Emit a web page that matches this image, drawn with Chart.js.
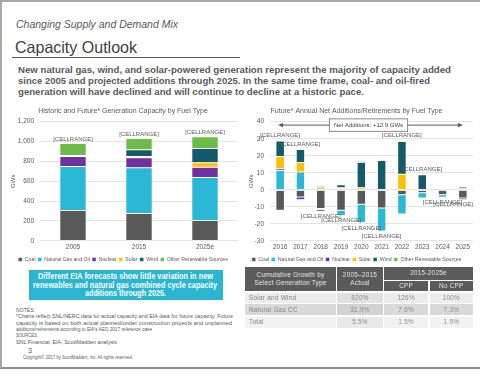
<!DOCTYPE html>
<html><head><meta charset="utf-8">
<script src="https://cdn.jsdelivr.net/npm/chart.js@4"></script>
<style>
html,body{margin:0;padding:0;background:#fff;width:480px;height:382px;overflow:hidden;font-family:'Liberation Sans',Arial,sans-serif;}
.t{position:absolute;white-space:nowrap;line-height:1;transform-origin:0 0;color:#595959;}
#frame{position:absolute;left:0;top:0;width:478px;height:365px;border-top:2px solid #a8a8a8;border-left:2px solid #a8a8a8;border-bottom:2px solid #8c8c8c;}
.cell{position:absolute;display:flex;align-items:center;font-size:6.4px;line-height:1.3;letter-spacing:0.25px;box-sizing:border-box;}
canvas{position:absolute;}
</style></head><body>
<div id="frame"></div>
<div class="t" style="left:16px;top:19px;font-size:11px;font-style:italic;" data-w="162">Changing Supply and Demand Mix</div>
<div class="t" style="left:15px;top:39.3px;font-size:16.5px;color:#404040;" data-w="122">Capacity Outlook</div>
<div style="position:absolute;left:12px;top:57px;width:228px;height:1.2px;background:#595959;"></div>
<div class="t" style="left:18px;top:64.5px;font-size:9.5px;font-weight:bold;" data-w="433">New natural gas, wind, and solar-powered generation represent the majority of capacity added</div>
<div class="t" style="left:18px;top:76px;font-size:9.5px;font-weight:bold;" data-w="412">since 2005 and projected additions through 2025. In the same time frame, coal- and oil-fired</div>
<div class="t" style="left:18px;top:87px;font-size:9.5px;font-weight:bold;" data-w="346">generation will have declined and will continue to decline at a historic pace.</div>

<canvas id="c1" width="232" height="170" style="left:8px;top:102px;width:232px;height:170px;"></canvas>
<canvas id="c2" width="235" height="170" style="left:240px;top:102px;width:235px;height:170px;"></canvas>

<div style="position:absolute;left:29px;top:270px;width:194px;height:29.5px;background:#2ab5d1;"></div>
<div class="t" style="left:38px;top:271.6px;font-size:8.3px;font-weight:bold;color:#fff;" data-w="175">Different EIA forecasts show little variation in new</div>
<div class="t" style="left:33px;top:280.9px;font-size:8.3px;font-weight:bold;color:#fff;" data-w="184">renewables and natural gas combined cycle capacity</div>
<div class="t" style="left:85px;top:289.2px;font-size:8.3px;font-weight:bold;color:#fff;" data-w="81">additions through 2025.</div>

<div class="t" style="left:16px;top:308px;font-size:5.6px;" data-w="19">NOTES:</div>
<div class="t" style="left:16px;top:314.3px;font-size:5.6px;" data-w="217">*Charts reflect SNL/NERC data for actual capacity and EIA data for future capacity. Future</div>
<div class="t" style="left:16px;top:320.6px;font-size:5.6px;" data-w="216">capacity is based on both actual planned/under construction projects and unplanned</div>
<div class="t" style="left:16px;top:326.9px;font-size:5.6px;" data-w="136">additions/retirements according to EIA's AEO 2017 reference case</div>
<div class="t" style="left:16px;top:333.3px;font-size:5.6px;" data-w="22">SOURCES:</div>
<div class="t" style="left:16px;top:339.6px;font-size:5.6px;" data-w="101">SNL Financial; EIA; ScottMadden analysis</div>
<div class="t" style="left:28px;top:347.3px;font-size:7px;">3</div>
<div class="t" style="left:22.7px;top:356.1px;font-size:4.5px;" data-w="110">Copyright© 2017 by ScottMadden, Inc. All rights reserved.</div>

<div id="tbl"></div>

<script>
// ---- Data: left chart (GWs) ----
const leftYears = ['2005', '2015', '2025e'];
const leftCoal = [305, 275, 204];
const leftGas = [443, 460, 435];
const leftNuclear = [102, 102, 102];
const leftSolar = [1, 13, 45];
const leftWind = [9, 68, 143];
const leftOther = [120, 112, 119];
const leftTicks = [0, 200, 400, 600, 800, 1000, 1200];

// ---- Data: right chart (GWs net additions/retirements) ----
const rightYears = ['2016','2017','2018','2019','2020','2021','2022','2023','2024','2025'];
const rightCoal = [-12, -4.3, -11, -12, -8.5, -10.7, -3, -1.8, -3, -4.8];
const rightGas = [11.3, 10.5, -0.8, -3.2, -10.8, -13.6, -11.3, -3, -1.4, 0.6];
const rightNuclear = [1, -1.5, -1, 0.4, -0.6, 0, 0, 0, 0, -1];
const rightSolar = [7.3, 5.5, 1.2, 0.8, 1.2, 0, 9.1, 0, 0, 0];
const rightWind = [9.1, 7.6, 0.8, 1.8, 14.9, 17.2, 19.2, 8.8, 0.5, 1.0];
const rightOther = [0.6, 0.4, 0.4, 0.2, 0.8, 0.3, 0.7, 0.5, 0, 0.4];
const rightTicks = [-30, -20, -10, 0, 10, 20, 30, 40];
const netAdditionsText = 'Net Additions: +12.9 GWs';
const dataLabelText = '[CELLRANGE]';

// ---- Table ----
const tableRowNames = ['Solar and Wind', 'Natural Gas CC', 'Total'];
const tableActual = ['820%', '31.9%', '5.5%'];
const tableCPP = ['126%', '7.6%', '1.5%'];
const tableNoCPP = ['100%', '7.3%', '1.9%'];

const seriesNames = ['Coal', 'Natural Gas and Oil', 'Nuclear', 'Solar', 'Wind', 'Other Renewable Sources'];
const seriesColors = ['#595959', '#29b9d6', '#7030a0', '#ffc000', '#135b6b', '#6cbd45'];

Chart.defaults.font.family = "'Liberation Sans', Arial, sans-serif";
Chart.defaults.color = '#595959';

const cellLabels = {
  id: 'cellLabels',
  afterDatasetsDraw(chart, args, opts) {
    const {ctx, chartArea} = chart;
    const ys = chart.scales.y, xs = chart.scales.x;
    ctx.save();
    ctx.font = opts.size + "px 'Liberation Sans', Arial, sans-serif";
    ctx.fillStyle = '#595959';
    ctx.textAlign = 'center';
    ctx.textBaseline = 'middle';
    const w = ctx.measureText(opts.text).width;
    chart.data.labels.forEach((l, i) => {
      let pos = 0, neg = 0;
      chart.data.datasets.forEach(d => { const v = d.data[i]; if (v > 0) pos += v; else neg += v; });
      const up = pos + neg >= 0;
      const x = xs.getPixelForValue(i);
      const y = up ? ys.getPixelForValue(pos) - opts.offset : ys.getPixelForValue(neg) + opts.offset;
      const cx = Math.min(x, chartArea.right - w / 2);
      ctx.fillText(opts.text, cx, y);
    });
    ctx.restore();
  }
};

const netArrow = {
  id: 'netArrow',
  afterDatasetsDraw(chart, args, opts) {
    if (!opts || !opts.text) return;
    const {ctx, chartArea: a} = chart;
    const y = chart.scales.y.getPixelForValue(opts.value);
    const x1 = a.left + 8, x2 = a.right - 10;
    ctx.save();
    ctx.strokeStyle = '#595959'; ctx.fillStyle = '#595959'; ctx.lineWidth = 1;
    ctx.beginPath(); ctx.moveTo(x1 + 2, y); ctx.lineTo(x2 - 2, y); ctx.stroke();
    ctx.beginPath(); ctx.moveTo(x1, y); ctx.lineTo(x1 + 5, y - 2.2); ctx.lineTo(x1 + 5, y + 2.2); ctx.closePath(); ctx.fill();
    ctx.beginPath(); ctx.moveTo(x2, y); ctx.lineTo(x2 - 5, y - 2.2); ctx.lineTo(x2 - 5, y + 2.2); ctx.closePath(); ctx.fill();
    ctx.font = "6px 'Liberation Sans', Arial, sans-serif";
    const tw = ctx.measureText(opts.text).width;
    const bw = tw + 9, bh = 12.5, cx = (x1 + x2) / 2 - 2;
    ctx.fillStyle = '#fff';
    ctx.fillRect(cx - bw / 2, y - bh / 2, bw, bh);
    ctx.strokeStyle = '#8a8a8a';
    ctx.strokeRect(cx - bw / 2, y - bh / 2, bw, bh);
    ctx.fillStyle = '#404040'; ctx.textAlign = 'center'; ctx.textBaseline = 'middle';
    ctx.fillText(opts.text, cx, y + 0.5);
    ctx.restore();
  }
};

function makeDatasets(arrs) {
  return arrs.map((d, i) => ({
    label: seriesNames[i], data: d, backgroundColor: seriesColors[i],
    borderColor: '#ffffff', borderWidth: 0.5, borderSkipped: false
  }));
}

function makeChart(id, labels, arrs, title, ticks, yWidth, extra) {
  return new Chart(document.getElementById(id), {
    type: 'bar',
    data: { labels: labels, datasets: makeDatasets(arrs) },
    options: {
      responsive: false, animation: false,
      layout: { padding: { left: 0, right: 2, top: 0, bottom: 0 } },
      datasets: { bar: { barPercentage: extra.barPct, categoryPercentage: 1 } },
      plugins: {
        title: { display: true, text: title, color: '#595959', font: { size: 7, weight: 'normal' }, padding: { top: 4.5, bottom: 6.8 } },
        legend: { position: 'bottom', labels: { boxWidth: 4, boxHeight: 4, color: '#595959', font: { size: 5.2 }, padding: 2.2 } },
        tooltip: { enabled: false },
        cellLabels: { text: dataLabelText, size: extra.labelSize, offset: extra.labelOffset },
        netArrow: extra.arrow || {}
      },
      scales: {
        x: { stacked: true, grid: { display: false, drawTicks: false }, border: { display: false },
             ticks: { font: { size: 6.5 }, color: '#595959', padding: 3, maxRotation: 0, minRotation: 0, autoSkip: false } },
        y: { stacked: true, min: ticks[0], max: ticks[ticks.length - 1],
             afterBuildTicks: s => { s.ticks = ticks.map(v => ({ value: v })); },
             afterFit: s => { s.width = yWidth; },
             ticks: { font: { size: 6.5 }, color: '#595959', padding: 6 },
             grid: { color: '#d9d9d9', lineWidth: 0.75, drawTicks: false }, border: { display: false },
             title: { display: true, text: 'GWs', color: '#595959', font: { size: 6 }, padding: { top: extra.yTitlePad, bottom: 0 } } }
      }
    },
    plugins: [cellLabels, netArrow]
  });
}

makeChart('c1', leftYears, [leftCoal, leftGas, leftNuclear, leftSolar, leftWind, leftOther],
  'Historic and Future* Generation Capacity by Fuel Type', leftTicks, 32,
  { barPct: 0.4, labelSize: 6, labelOffset: 4.5, yTitlePad: 1.5 });
makeChart('c2', rightYears, [rightCoal, rightGas, rightNuclear, rightSolar, rightWind, rightOther],
  'Future* Annual Net Additions/Retirements by Fuel Type', rightTicks, 30,
  { barPct: 0.42, labelSize: 6, labelOffset: 5, yTitlePad: 8, arrow: { value: 38, text: netAdditionsText } });

// ---- table build ----
const tbl = document.getElementById('tbl');
function cell(x1, y1, x2, y2, bg, html, color, align, pad) {
  const d = document.createElement('div');
  d.className = 'cell';
  d.style.cssText += `left:${x1}px;top:${y1}px;width:${x2 - x1}px;height:${y2 - y1}px;background:${bg};color:${color};justify-content:${align};text-align:${align === 'center' ? 'center' : 'left'};padding-left:${pad || 0}px;`;
  d.innerHTML = html;
  tbl.appendChild(d);
}
const H = '#5b5b5b', HT = '#e6e6e6';
cell(245, 267, 336, 291.3, H, 'Cumulative Growth by<br>Select Generation Type', HT, 'center');
cell(337.3, 267, 382.7, 291.3, H, '2005–2015<br>Actual', HT, 'center');
cell(384, 267, 473, 279.5, H, '2015-2025e', HT, 'center');
cell(384, 280.7, 428.3, 291.3, H, 'CPP', HT, 'center');
cell(429.7, 280.7, 473, 291.3, H, 'No CPP', HT, 'center');
const rowY = [[292.5, 303], [304.2, 315.4], [316.6, 328]];
const rowBg = [['#ececec', '#e1e1e1'], ['#d9d9d9', '#d2d2d2'], ['#f2f2f2', '#e9e9e9']];
tableRowNames.forEach((n, r) => {
  const [y1, y2] = rowY[r];
  cell(245, y1, 336, y2, rowBg[r][0], n, '#7f7f7f', 'flex-start', 4);
  cell(337.3, y1, 382.7, y2, rowBg[r][1], tableActual[r], '#8a8a8a', 'center');
  cell(384, y1, 428.3, y2, rowBg[r][0], tableCPP[r], '#8a8a8a', 'center');
  cell(429.7, y1, 473, y2, rowBg[r][0], tableNoCPP[r], '#8a8a8a', 'center');
});

function fit() {
  document.querySelectorAll('[data-w]').forEach(el => {
    el.style.transform = 'none';
    const w = el.getBoundingClientRect().width;
    el.style.transform = 'scaleX(' + (+el.dataset.w / w) + ')';
  });
}
fit();
if (document.fonts && document.fonts.ready) document.fonts.ready.then(fit);
</script>
</body></html>
